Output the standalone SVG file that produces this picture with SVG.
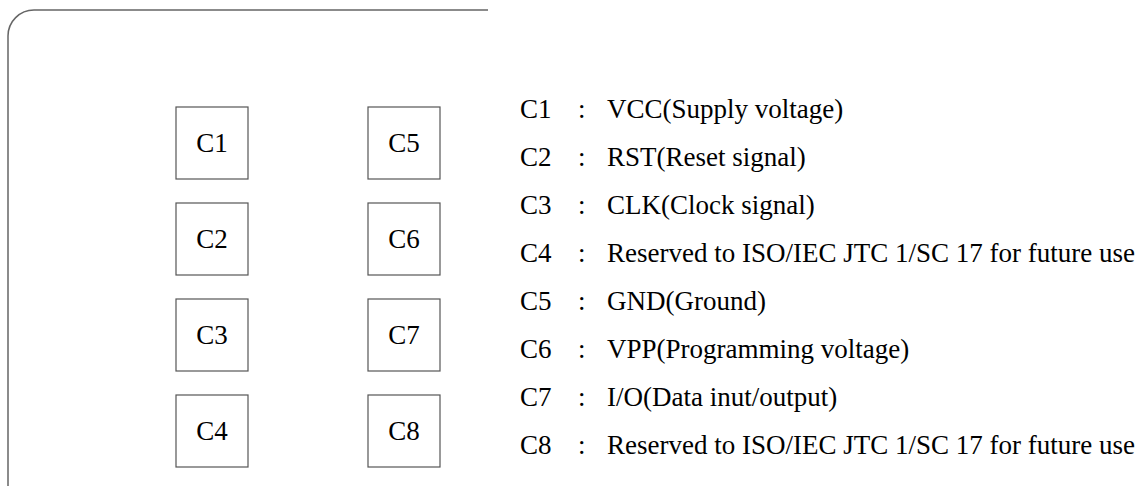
<svg xmlns="http://www.w3.org/2000/svg" width="1141" height="486" viewBox="0 0 1141 486">
<style>
.pin{fill:#fff;stroke:#555;stroke-width:1.2}
.lbl{font-family:"Liberation Serif",serif;font-size:27px;fill:#000}
.mid{text-anchor:middle;dominant-baseline:central}
</style>
<rect width="1141" height="486" fill="#fff"/>
<g id="card-outline"><path d="M8,486 V36 A26,26 0 0 1 34,10 H488" fill="none" stroke="#666" stroke-width="1.5"/></g>
<g id="C1"><rect class="pin" x="176" y="107" width="72" height="72"/><text class="lbl mid" x="212" y="143">C1</text></g>
<g id="C2"><rect class="pin" x="176" y="203" width="72" height="72"/><text class="lbl mid" x="212" y="239">C2</text></g>
<g id="C3"><rect class="pin" x="176" y="299" width="72" height="72"/><text class="lbl mid" x="212" y="335">C3</text></g>
<g id="C4"><rect class="pin" x="176" y="395" width="72" height="72"/><text class="lbl mid" x="212" y="431">C4</text></g>
<g id="C5"><rect class="pin" x="368" y="107" width="72" height="72"/><text class="lbl mid" x="404" y="143">C5</text></g>
<g id="C6"><rect class="pin" x="368" y="203" width="72" height="72"/><text class="lbl mid" x="404" y="239">C6</text></g>
<g id="C7"><rect class="pin" x="368" y="299" width="72" height="72"/><text class="lbl mid" x="404" y="335">C7</text></g>
<g id="C8"><rect class="pin" x="368" y="395" width="72" height="72"/><text class="lbl mid" x="404" y="431">C8</text></g>
<g id="connectors"></g>
<g id="legend" class="lbl">
<text x="520" y="118">C1</text><text x="578" y="118">:</text><text x="607" y="118">VCC(Supply voltage)</text>
<text x="520" y="166">C2</text><text x="578" y="166">:</text><text x="607" y="166">RST(Reset signal)</text>
<text x="520" y="214">C3</text><text x="578" y="214">:</text><text x="607" y="214">CLK(Clock signal)</text>
<text x="520" y="262">C4</text><text x="578" y="262">:</text><text x="607" y="262">Reserved to ISO/IEC JTC 1/SC 17 for future use</text>
<text x="520" y="310">C5</text><text x="578" y="310">:</text><text x="607" y="310">GND(Ground)</text>
<text x="520" y="358">C6</text><text x="578" y="358">:</text><text x="607" y="358">VPP(Programming voltage)</text>
<text x="520" y="406">C7</text><text x="578" y="406">:</text><text x="607" y="406">I/O(Data inut/output)</text>
<text x="520" y="454">C8</text><text x="578" y="454">:</text><text x="607" y="454">Reserved to ISO/IEC JTC 1/SC 17 for future use</text>
</g>
</svg>
